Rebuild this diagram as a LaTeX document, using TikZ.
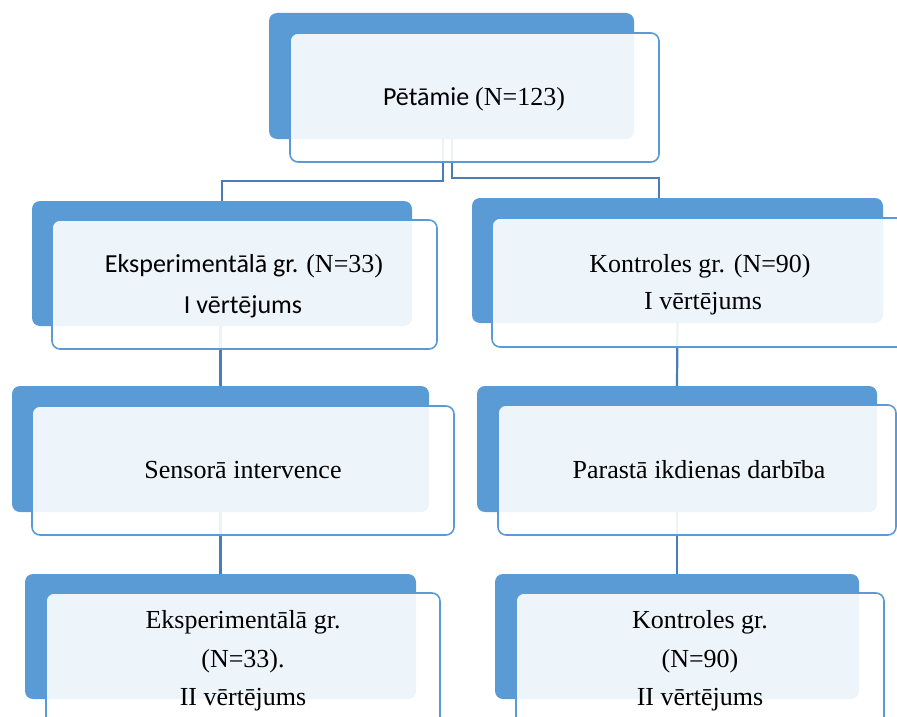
\documentclass[tikz,border=0pt]{standalone}
\usepackage{fontspec}
\setmainfont{Liberation Serif}
\newfontfamily\calfont{Carlito}
\definecolor{accent}{HTML}{5B9BD5}
\definecolor{conn}{HTML}{4A7DB5}
\begin{document}
\begin{tikzpicture}[x=1pt,y=-1pt,
  backbox/.style={fill=accent, rounded corners=8pt, anchor=north west, inner sep=0pt, outer sep=0pt},
  frontbox/.style={draw=accent, line width=1.6pt, fill=white, fill opacity=0.9, rounded corners=8pt, anchor=north west, inner sep=0pt, outer sep=0pt},
  lbl/.style={font=\fontsize{26}{30}\selectfont, anchor=base, inner sep=0pt},
  link/.style={draw=conn, line width=2.2pt}]
\useasboundingbox (0,0) rectangle (897,717);
\clip (0,0) rectangle (897,717);
% back boxes
\node[backbox, minimum width=365pt, minimum height=126pt] (b1) at (269,13) {};
\node[backbox, minimum width=380pt, minimum height=125pt] (b2L) at (32,201) {};
\node[backbox, minimum width=411pt, minimum height=125pt] (b2R) at (472,198) {};
\node[backbox, minimum width=417pt, minimum height=126pt] (b3L) at (12,386) {};
\node[backbox, minimum width=400pt, minimum height=126pt] (b3R) at (477,386) {};
\node[backbox, minimum width=391pt, minimum height=125pt] (b4L) at (25,574) {};
\node[backbox, minimum width=364pt, minimum height=125pt] (b4R) at (495,574) {};
% connectors
\coordinate (j1) at (443,181);
\coordinate (j2) at (452,178);
\coordinate (j3) at (659,178);
\draw[link] (j1 |- b1.south) -- (j1) -| (b2L.north);
\draw[link] (j2 |- b1.south) -- (j2) -- (j3) -- (j3 |- b2R.north);
\draw[link] (b3L.north |- b2L.south) -- (b3L.north);
\draw[link] (b3L.south) -- (b4L.north);
\draw[link] (b2R.south) -- (b3R.north);
\draw[link] (b3R.south) -- (b4R.north);
% front boxes
\node[frontbox, minimum width=369pt, minimum height=129pt] (f1) at (290,33) {};
\node[frontbox, minimum width=385pt, minimum height=129pt] (f2L) at (52,220) {};
\node[frontbox, minimum width=420pt, minimum height=129pt] (f2R) at (492,218) {};
\node[frontbox, minimum width=422pt, minimum height=129pt] (f3L) at (32,406) {};
\node[frontbox, minimum width=398pt, minimum height=130pt] (f3R) at (498,405) {};
\node[frontbox, minimum width=394pt, minimum height=140pt] (f4L) at (46,593) {};
\node[frontbox, minimum width=368pt, minimum height=140pt] (f4R) at (516,593) {};
% texts
\node[lbl] (t1) at (474,106) {{\calfont Pētāmie }(N=123)};
\node[lbl] (t2La) at (244,272) {{\calfont Eksperimentālā gr. }(N=33)};
\node[lbl] (t2Lb) at (243,313) {{\calfont I vērtējums}};
\node[lbl] (t2Ra) at (700,272) {Kontroles gr. (N=90)};
\node[lbl] (t2Rb) at (703,309) {I vērtējums};
\node[lbl] (t3L) at (243,478) {Sensorā intervence};
\node[lbl] (t3R) at (699,478) {Parastā ikdienas darbība};
\node[lbl] (t4La) at (243,628) {Eksperimentālā gr.};
\node[lbl] (t4Lb) at (243,667) {(N=33).};
\node[lbl] (t4Lc) at (243,705) {II vērtējums};
\node[lbl] (t4Ra) at (700,628) {Kontroles gr.};
\node[lbl] (t4Rb) at (700,667) {(N=90)};
\node[lbl] (t4Rc) at (700,705) {II vērtējums};
\end{tikzpicture}
\end{document}
